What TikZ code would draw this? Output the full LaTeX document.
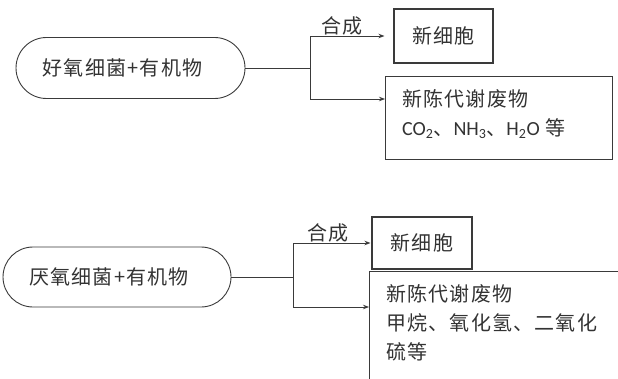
\documentclass[tikz,border=0pt]{standalone}
\usepackage{fontspec}
\setmainfont[LetterSpace=6]{Noto Sans CJK SC}
\newfontfamily\latinfont{Carlito}
\usetikzlibrary{arrows.meta, shapes.misc, positioning, calc}
\definecolor{g}{HTML}{3a3a3a}
\definecolor{t}{HTML}{333333}
\tikzset{
    arrow/.style={-{Stealth[length=6pt,width=4.5pt]},line width=0.9pt,draw=g},
    link/.style={line width=0.9pt,draw=g},
    oval/.style={
        draw=g,line width=0.9pt,rounded rectangle,
        minimum width=229pt,minimum height=61pt,inner sep=0pt,
        font=\fontsize{20}{22}\selectfont,text=t
    },
    cellbox/.style={
        draw=g,line width=1.1pt,minimum width=99pt,minimum height=54pt,
        inner sep=0pt,font=\fontsize{20}{22}\selectfont,text=t
    },
    wastebox/.style={draw=g,line width=1.1pt,anchor=north west,inner sep=0pt},
    boxtext/.style={anchor=north west,align=left,inner sep=0pt,font=\fontsize{20}{29}\selectfont,text=t},
    synlabel/.style={font=\fontsize{20}{22}\selectfont,text=t,inner sep=0pt}
}

\begin{document}
\begin{tikzpicture}[x=1pt,y=1pt]
    \useasboundingbox (0,0) rectangle (618,378);
    \node[oval] (aer) at (130.5,310) {好氧细菌+有机物\kern16pt};
    \node[cellbox] (acell) at (443.5,342) {新细胞};
    \node[wastebox,minimum width=227pt,minimum height=83pt] (awaste) at (385,302) {};
    \node[boxtext] (atext) at ([shift={(17pt,-13pt)}]awaste.north west)
        {新陈代谢废物\\{\latinfont CO\textsubscript{2}}、{\latinfont NH\textsubscript{3}}、{\latinfont H\textsubscript{2}O} 等};
    \draw[link] (aer.east) -- ++(65,0) coordinate (ajn);
    \draw[arrow,shorten >=9pt] (ajn) |- node[synlabel,pos=0.69,above] {合成} (acell.west);
    \draw[arrow] (ajn) |- ([yshift=-23pt]awaste.north west);

    \node[oval,minimum width=228pt,minimum height=60pt] (ana) at (117,101) {厌氧细菌+有机物\kern16pt};
    \node[cellbox,minimum width=100pt,minimum height=52pt] (bcell) at (422,135) {新细胞};
    \node[wastebox,minimum width=270pt,minimum height=130pt] (bwaste) at (369,107) {};
    \node[boxtext] (btext) at ([shift={(17pt,-13pt)}]bwaste.north west)
        {新陈代谢废物\\甲烷、氧化氢、二氧化\\硫等};
    \draw[link] (ana.east) -- ++(62,0) coordinate (bjn);
    \draw[arrow,shorten >=1pt] (bjn) |- node[synlabel,pos=0.72,above] {合成} (bcell.west);
    \draw[arrow] (bjn) |- ([yshift=-36pt]bwaste.north west);
\end{tikzpicture}
\end{document}
